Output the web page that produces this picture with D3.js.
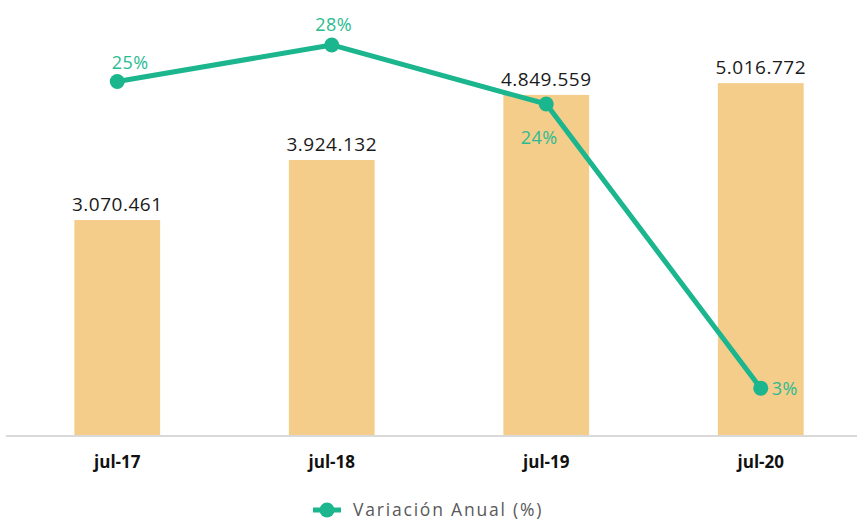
<!DOCTYPE html>
<html>
<head>
<meta charset="utf-8">
<script src="https://cdn.jsdelivr.net/npm/d3@7"></script>
<style>
  body { margin: 0; background: #fff; }
  svg { display: block; font-family: "Open Sans", "Noto Sans", sans-serif; }
</style>
</head>
<body>
<svg id="vis"></svg>
<script>
// data
const periods = ["jul-17", "jul-18", "jul-19", "jul-20"];
const totals = [3070461, 3924132, 4849559, 5016772];
const variation = [25.2, 27.8, 23.6, 3.4];
const variationLabels = ["25%", "28%", "24%", "3%"];
const legendLabel = "Variación Anual (%)";

let config = { svg: {}, plot: {} };
config.svg.width = 857;
config.svg.height = 520;
config.plot.left = 10;
config.plot.right = 868;
config.plot.top = 14;
config.plot.bottom = 436;

const barColor = "#f4cd8a";
const lineColor = "#1bb58e";
const labelGreen = "#2bbb92";

const svg = d3.select("svg#vis")
  .attr("width", config.svg.width)
  .attr("height", config.svg.height);

let scale = {};
scale.x = d3.scaleBand()
  .domain(periods)
  .range([config.plot.left, config.plot.right])
  .paddingInner(0.6)
  .paddingOuter(0.3);

scale.y = d3.scaleLinear()
  .domain([0, 6000000])
  .range([config.plot.bottom, config.plot.top]);

scale.pct = d3.scaleLinear()
  .domain([0, 30])
  .range([config.plot.bottom, config.plot.top]);

const fmt = d3.formatLocale({ decimal: ",", thousands: ".", grouping: [3], currency: ["", ""] }).format(",d");

let rows = periods.map((p, i) => ({ period: p, total: totals[i], pct: variation[i], label: variationLabels[i] }));

// bars
let plot = svg.append("g").attr("id", "plot");

plot.selectAll("rect.bar")
  .data(rows)
  .enter()
  .append("rect")
  .attr("class", "bar")
  .attr("x", d => scale.x(d.period))
  .attr("y", d => scale.y(d.total))
  .attr("width", scale.x.bandwidth())
  .attr("height", d => scale.y(0) - scale.y(d.total))
  .attr("fill", barColor);

plot.selectAll("text.value")
  .data(rows)
  .enter()
  .append("text")
  .attr("class", "value")
  .attr("x", d => scale.x(d.period) + scale.x.bandwidth() / 2)
  .attr("y", d => scale.y(d.total) - 9)
  .attr("text-anchor", "middle")
  .attr("font-size", "19px")
  .attr("letter-spacing", "0.5px")
  .attr("fill", "#1a1a1a")
  .text(d => fmt(d.total));

// x axis
let axis = d3.axisBottom(scale.x).tickSize(0).tickPadding(20);
let gx = svg.append("g")
  .attr("transform", translate(0, config.plot.bottom))
  .call(axis);
gx.select(".domain").attr("stroke", "#d9d9d9").attr("stroke-width", 2)
  .attr("d", "M6,0H" + config.svg.width);
gx.selectAll("text")
  .attr("font-family", "Open Sans, sans-serif")
  .attr("font-size", "17px")
  .attr("font-weight", "bold")
  .attr("fill", "#111");

// line
let cx = d => scale.x(d.period) + scale.x.bandwidth() / 2;
let line = d3.line().x(cx).y(d => scale.pct(d.pct));

plot.append("path")
  .datum(rows)
  .attr("d", line)
  .attr("fill", "none")
  .attr("stroke", lineColor)
  .attr("stroke-width", 5)
  .attr("stroke-linejoin", "round");

plot.selectAll("circle.dot")
  .data(rows)
  .enter()
  .append("circle")
  .attr("class", "dot")
  .attr("cx", cx)
  .attr("cy", d => scale.pct(d.pct))
  .attr("r", 7.5)
  .attr("fill", lineColor);

// label placement: above, above, below, right
const place = [
  { dx: 13, dy: -13, anchor: "middle" },
  { dx: 2, dy: -14, anchor: "middle" },
  { dx: -7, dy: 40, anchor: "middle" },
  { dx: 11, dy: 7, anchor: "start" }
];

plot.selectAll("text.pct")
  .data(rows)
  .enter()
  .append("text")
  .attr("class", "pct")
  .attr("x", (d, i) => cx(d) + place[i].dx)
  .attr("y", (d, i) => scale.pct(d.pct) + place[i].dy)
  .attr("text-anchor", (d, i) => place[i].anchor)
  .attr("font-size", "18px")
  .attr("letter-spacing", "0.5px")
  .attr("fill", labelGreen)
  .text(d => d.label);

// legend
let legend = svg.append("g").attr("transform", translate(327, 510));
legend.append("line")
  .attr("x1", -14).attr("x2", 14)
  .attr("stroke", lineColor).attr("stroke-width", 5);
legend.append("circle").attr("r", 7.5).attr("fill", lineColor);
legend.append("text")
  .attr("x", 26)
  .attr("y", 6)
  .attr("font-size", "17.5px")
  .attr("letter-spacing", "1.8px")
  .attr("fill", "#595959")
  .text(legendLabel);

function translate(x, y) {
  return "translate(" + x + "," + y + ")";
}
</script>
</body>
</html>
